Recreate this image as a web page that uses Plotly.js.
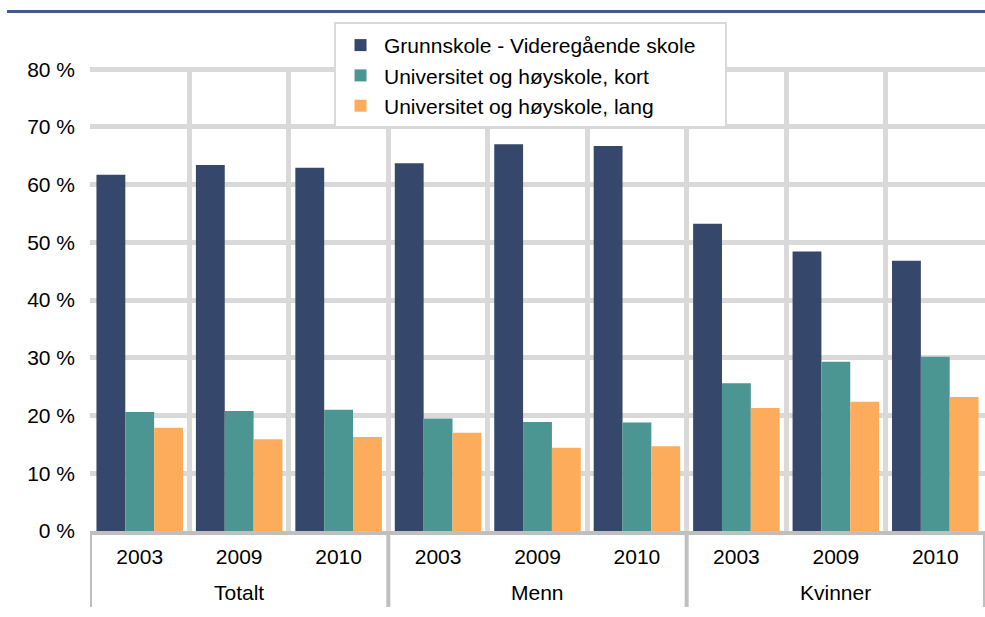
<!DOCTYPE html>
<html>
<head>
<meta charset="utf-8">
<script src="https://cdn.plot.ly/plotly-3.0.1.min.js"></script>
<style>
html,body{margin:0;padding:0;background:#fff;}
#chart{width:985px;height:617px;}
</style>
</head>
<body>
<div id="chart"></div>
<script>
const groups = ['Totalt','Totalt','Totalt','Menn','Menn','Menn','Kvinner','Kvinner','Kvinner'];
const years = ['2003','2009','2010','2003','2009','2010','2003','2009','2010'];
const seriesNames = ['Grunnskole - Videregående skole','Universitet og høyskole, kort','Universitet og høyskole, lang'];
const grunnskole = [61.7,63.4,62.9,63.7,67.0,66.7,53.2,48.4,46.8];
const kort = [20.6,20.8,21.0,19.5,18.9,18.8,25.6,29.3,30.2];
const lang = [17.9,15.9,16.3,17.0,14.4,14.7,21.3,22.4,23.2];
const yTicks = [0,10,20,30,40,50,60,70,80];

const colors = ['#35476B','#4B9692','#FDAC5B'];
const font = 'Liberation Sans, Arial, sans-serif';
const values = [grunnskole, kort, lang];

// unique category keys built from group + year
const cats = groups.map((g,i)=>g+' '+years[i]);

const data = values.map((v,i)=>({
  type:'bar',
  name: seriesNames[i],
  x:cats,
  y:v,
  marker:{color:colors[i]},
  hoverinfo:'skip'
}));

// group spans from the groups array
const spans = [];
groups.forEach((g,i)=>{
  if(!spans.length || spans[spans.length-1].name!==g) spans.push({name:g,start:i,end:i});
  else spans[spans.length-1].end=i;
});

const annotations = spans.map(s=>({
  xref:'x', yref:'paper',
  x:(s.start+s.end)/2, y:-0.1318,
  text:s.name, showarrow:false,
  xanchor:'center', yanchor:'middle',
  font:{family:font,size:21,color:'#000000'}
}));

const shapes = [
  {
    type:'line', xref:'paper', yref:'paper',
    x0:-0.0927, x1:1, y0:1.122, y1:1.122,
    line:{color:'#3F5B8B',width:3}
  },
  {
    // legend frame
    type:'rect', xref:'paper', yref:'paper', layer:'above',
    x0:0.2737, x1:0.7106, y0:0.8726, y1:1.0972,
    fillcolor:'#ffffff',
    line:{color:'#d9d9d9',width:2}
  }
];
const bounds = [spans[0].start-0.5].concat(spans.map(s=>s.end+0.5));
bounds.forEach((b,i)=>{
  shapes.push({
    type:'line', xref:'x', yref:'paper',
    x0:b, x1:b, y0:0, y1:-0.164,
    line:{color:'#bfbfbf',width:4}
  });
});

const layout = {
  width:985, height:617,
  margin:{l:90,r:0,t:68,b:86,autoexpand:false},
  paper_bgcolor:'#ffffff',
  plot_bgcolor:'#ffffff',
  font:{family:font,size:21,color:'#000000'},
  barmode:'group',
  bargap:0.13,
  bargroupgap:0,
  showlegend:true,
  legend:{
    x:0.276, y:1.093, xanchor:'left', yanchor:'top',
    bgcolor:'rgba(0,0,0,0)', borderwidth:0,
    font:{family:font,size:21,color:'#000000'},
    traceorder:'normal',
    itemwidth:37
  },
  xaxis:{
    type:'category',
    range:[-0.5, cats.length-0.5],
    tickvals:cats, ticktext:years,
    tickson:'boundaries',
    showgrid:true, gridcolor:'#d9d9d9', gridwidth:5,
    showline:true, linecolor:'#bfbfbf', linewidth:4,
    ticks:'',
    ticklabelstandoff:4,
    tickfont:{family:font,size:21,color:'#000000'},
    zeroline:false
  },
  yaxis:{
    range:[0,80.2],
    tickvals:yTicks,
    ticktext:yTicks.map(v=>v+' %'),
    showgrid:true, gridcolor:'#d9d9d9', gridwidth:5,
    zeroline:false, showline:false,
    ticks:'',
    ticklabelstandoff:14,
    tickfont:{family:font,size:21,color:'#000000'}
  },
  annotations:annotations,
  shapes:shapes
};

Plotly.newPlot('chart', data, layout, {staticPlot:true, displayModeBar:false});
</script>
</body>
</html>
